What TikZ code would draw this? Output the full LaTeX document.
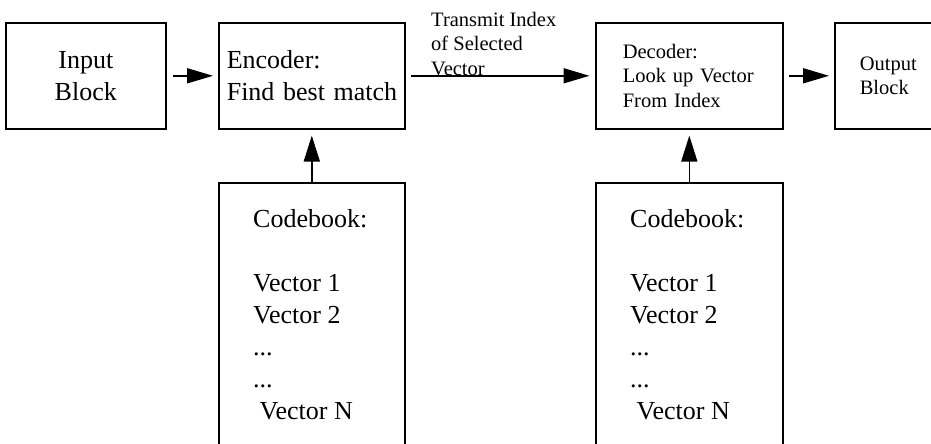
\documentclass[tikz,border=0pt]{standalone}
\usepackage{fontspec}
\setmainfont{Liberation Serif}
\usetikzlibrary{arrows.meta,positioning}

\tikzset{
  block/.style={draw, line width=1.6pt, rectangle, inner sep=0pt, minimum height=106pt},
  bigfont/.style={font=\fontsize{26}{32}\selectfont},
  smallfont/.style={font=\fontsize{20.5}{24.5}\selectfont},
  flow/.style={line width=1.6pt, -{Triangle[length=26pt,width=15pt]}},
  flowup/.style={line width=1.6pt, -{Triangle[length=26pt,width=16pt]}},
}

\begin{document}
\begin{tikzpicture}[x=1pt,y=-1pt]

    % Page size
    \useasboundingbox (0,0) rectangle (931,444);
    \clip (0,0) rectangle (931,444);

    % Top row
    \node[block, bigfont, anchor=north west, minimum width=160pt, align=center] (inp) at (5,22) {Input\\Block};
    \node[block, bigfont, anchor=north west, inner xsep=8pt, text width=170pt, align=left] (enc) at (218,22) {Encoder:\\\mbox{Find best match}};
    \node[block, smallfont, anchor=north west, inner xsep=27pt, text width=133pt, align=left] (dec) at (595,22) {Decoder:\\Look up Vector\\From Index};
    \node[block, smallfont, anchor=north west, inner xsep=25pt, text width=90pt, align=left] (out) at (834,22) {Output\\Block};

    % Codebooks
    \node[block, anchor=north west, minimum width=186pt, minimum height=300pt] (cb1) at (218,182) {};
    \node[block, anchor=north west, minimum width=187pt, minimum height=300pt] (cb2) at (595,182) {};
    \node[bigfont, anchor=north west, inner sep=0pt, align=left] (cb1txt) at ([shift={(35,27)}]cb1.north west)
        {Codebook:\\[32pt]Vector 1\\Vector 2\\...\\...\\~Vector N};
    \node[bigfont, anchor=north west, inner sep=0pt, align=left] (cb2txt) at ([shift={(35,27)}]cb2.north west)
        {Codebook:\\[32pt]Vector 1\\Vector 2\\...\\...\\~Vector N};

    % Channel label
    \node[smallfont, anchor=north west, inner sep=0pt, align=left] (chan) at (431,12) {Transmit Index\\of Selected\\Vector};

    % Arrows
    \draw[flow, shorten <=6pt, shorten >=5pt] (inp.east) -- (enc.west);
    \draw[flow, shorten <=5.5pt, shorten >=5.5pt] (enc.east) -- (dec.west);
    \draw[flow, shorten <=5pt, shorten >=5pt] (dec.east) -- (out.west);
    \draw[flowup, shorten >=6pt] (cb1.north) -- (enc.south);
    \draw[flowup, shorten >=6pt] (cb2.north) -- (dec.south);

\end{tikzpicture}
\end{document}
